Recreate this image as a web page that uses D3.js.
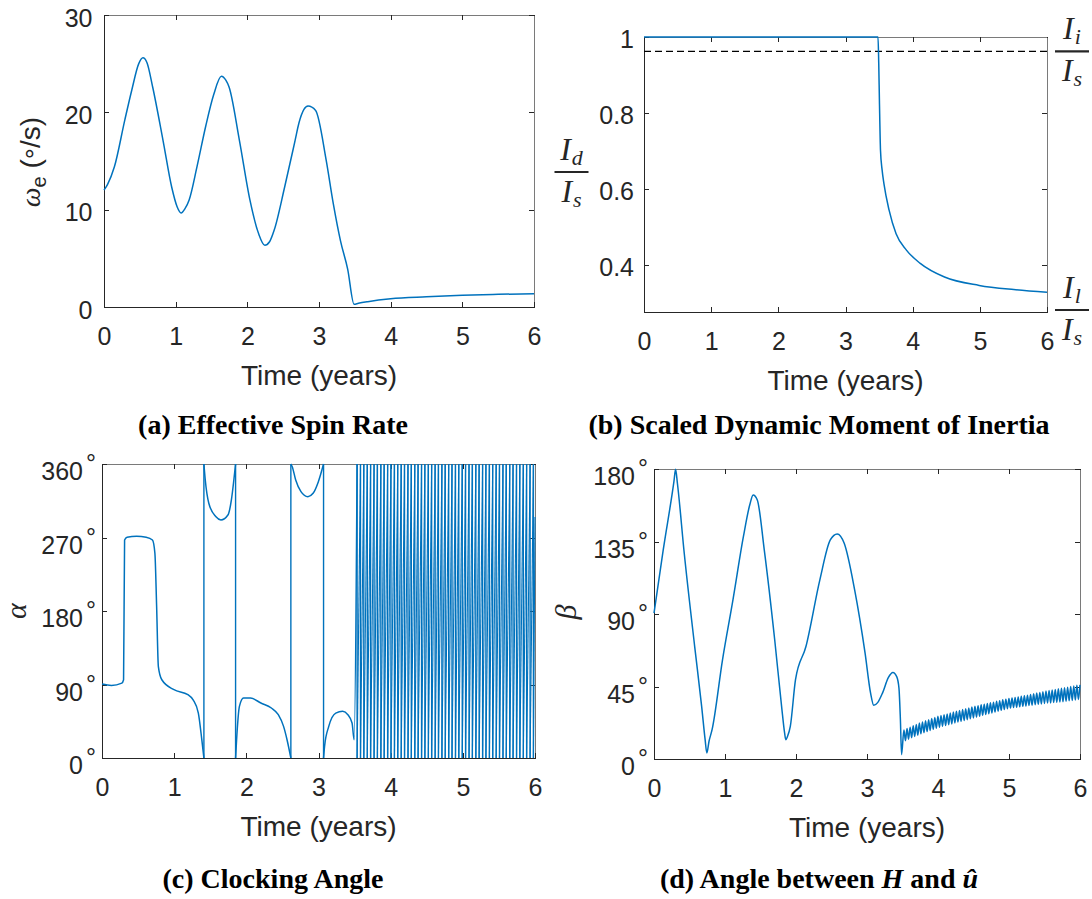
<!DOCTYPE html>
<html>
<head>
<meta charset="utf-8">
<script src="https://d3js.org/d3.v7.min.js"></script>
<style>
body { margin: 0; background: #fff; }
svg { display: block; }
.axis path, .axis line { stroke: #262626; shape-rendering: crispEdges; }
.mirror path { stroke: #7a7a7a; }
.axis text { font-family: "Liberation Sans", Arial, sans-serif; font-size: 25px; fill: #262626; }
text.xlabel { font-family: "Liberation Sans", Arial, sans-serif; font-size: 28px; fill: #262626; }
text.caption { font-family: "Liberation Serif", "Times New Roman", serif; font-size: 28px; font-weight: bold; fill: #000; }
text.math { font-family: "Liberation Serif", "Times New Roman", serif; font-style: italic; fill: #262626; }
</style>
</head>
<body>
<script>
const width = 1092, height = 899;
const blue = '#0072BD';
const tickLen = 5;

// (a) effective spin rate, deg/s
const spinT = [0, 0.05, 0.145, 0.29, 0.388, 0.485, 0.543, 0.6, 0.679, 0.824, 0.945, 1.02, 1.076, 1.13, 1.188,
  1.30, 1.42, 1.53, 1.638, 1.70, 1.745, 1.89, 2.036, 2.157, 2.244, 2.31, 2.375, 2.52, 2.666, 2.72,
  2.79, 2.847, 2.953, 3.1, 3.2, 3.3, 3.4, 3.49, 3.55, 3.68, 4.0, 4.5, 5.0, 5.5, 6.0];
const spinW = [12.0, 12.6, 14.4, 19.2, 22.3, 25.0, 25.6, 25.1, 22.6, 17.1, 12.3, 10.3, 9.66, 10.1, 11.0,
  14.5, 18.6, 21.8, 23.7, 23.3, 22.6, 17.1, 11.0, 7.54, 6.34, 6.7, 7.9, 12.3, 17.1, 18.9,
  20.3, 20.65, 20.2, 15.1, 10.6, 6.8, 3.9, 0.28, 0.38, 0.55, 0.85, 1.05, 1.2, 1.3, 1.37];

// (b) scaled dynamic moment of inertia
const inertiaT = [0, 3.484, 3.495, 3.505, 3.521, 3.545, 3.572, 3.649, 3.753, 3.907, 4.113, 4.474, 4.99, 5.505, 6.0];
const inertiaR = [1, 1, 0.93, 0.833, 0.702, 0.65, 0.614, 0.544, 0.482, 0.439, 0.404, 0.368, 0.346, 0.335, 0.328];
const ratioI = 0.962;   // Ii/Is (dashed)
const ratioL = 0.276;   // Il/Is (axis bottom)

// (c) clocking angle, deg (0/360 pairs at equal times are wraps)
const alphaT = [0, 0.13, 0.275, 0.299, 0.313, 0.347, 0.48, 0.612, 0.699, 0.733, 0.757, 0.781, 0.829, 0.998, 1.19,
  1.263, 1.335, 1.383, 1.412, 1.412, 1.431, 1.48, 1.576, 1.648, 1.745, 1.793, 1.827, 1.851, 1.851, 1.865,
  1.904, 1.961, 2.058, 2.202, 2.347, 2.443, 2.516, 2.564, 2.617, 2.617, 2.636, 2.684, 2.757, 2.853, 2.925,
  2.998, 3.07, 3.07, 3.084, 3.142, 3.239, 3.335, 3.407, 3.465, 3.494];
const alphaV = [90.5, 88.9, 91.7, 95.8, 267, 270.3, 271.5, 270.3, 267, 250.7, 185.5, 112, 95.8, 83.6, 77.5,
  71.3, 55, 22.4, 0, 360, 340.4, 312, 295.6, 291.5, 297.6, 316, 340.4, 360, 0, 22.4,
  63.2, 73.4, 73.4, 67.3, 61.2, 53, 38.7, 22.4, 0, 360, 356.7, 340.4, 326.2, 320, 324.1,
  338.4, 360, 0, 14.3, 38.7, 55, 57.1, 53, 42.8, 22.4];
// wrap times of the fast spin after 3.5 years
const alphaWrapT = [3.535, 3.582, 3.628, 3.676, 3.722, 3.770, 3.816, 3.864, 3.910, 3.958, 4.004, 4.052,
  4.098, 4.146, 4.192, 4.240, 4.286, 4.334, 4.380, 4.428, 4.474, 4.522, 4.568, 4.616, 4.662, 4.710,
  4.756, 4.804, 4.850, 4.898, 4.944, 4.992, 5.038, 5.086, 5.132, 5.180, 5.226, 5.274, 5.320, 5.368,
  5.414, 5.462, 5.508, 5.556, 5.602, 5.650, 5.696, 5.744, 5.790, 5.838, 5.884, 5.932, 5.978];
const alphaEnd = [6, 295];

// (d) angle between H and u, deg
const betaT = [0, 0.13, 0.28, 0.304, 0.33, 0.426, 0.573, 0.671, 0.72, 0.744, 0.775, 0.818, 0.965, 1.112, 1.259,
  1.35, 1.396, 1.455, 1.553, 1.7, 1.797, 1.84, 1.856, 1.88, 1.92, 1.993, 2.14, 2.336, 2.483, 2.581,
  2.679, 2.826, 2.973, 3.05, 3.095, 3.15, 3.218, 3.3, 3.365, 3.42, 3.45, 3.47, 3.487];
const betaV = [90.5, 129.8, 172, 179.8, 171, 127.7, 69.8, 32.7, 12, 3.7, 11, 18.2, 61.6, 98.8, 138,
  158, 163.9, 160.8, 129.8, 74, 32.7, 16, 12, 14, 20.3, 49.2, 69.8, 111.2, 136, 139.7,
  133.9, 105, 65.7, 41, 33.3, 35, 40.9, 50.5, 53.7, 51, 44, 25, 2.7];
// nutation wiggle after 3.5 years: alternating peaks/troughs, one every half period
const betaWiggleT0 = 3.52, betaWiggleStep = 0.02175;
const betaWiggleV = [18.0, 11.4, 18.9, 12.3, 19.7, 13.2, 20.6, 14.0, 21.4, 14.8, 22.3, 15.6,
  22.9, 16.3, 23.7, 17.0, 24.4, 17.7, 25.1, 18.4, 25.8, 19.1, 26.5, 19.7, 27.0, 20.3, 27.5, 20.8,
  28.0, 21.3, 28.6, 21.8, 29.1, 22.4, 29.6, 22.9, 30.1, 23.4, 30.7, 23.9, 31.2, 24.4, 31.7, 25.0,
  32.2, 25.5, 32.7, 26.0, 33.1, 26.5, 33.6, 27.1, 34.0, 27.6, 34.5, 28.1, 34.9, 28.6, 35.3, 29.1,
  35.8, 29.7, 36.2, 30.2, 36.7, 30.7, 37.1, 31.2, 37.5, 31.6, 37.8, 31.9, 38.2, 32.1, 38.5, 32.4,
  38.9, 32.7, 39.2, 32.9, 39.6, 33.2, 40.0, 33.4, 40.5, 33.7, 40.9, 34.0, 41.3, 34.2, 41.8, 34.5,
  42.2, 34.7, 42.5, 34.8, 42.9, 35.0, 43.2, 35.2, 43.6, 35.4, 43.9, 35.6, 44.3, 35.8, 44.6, 36.1,
  45.0, 36.3, 45.3, 36.6, 45.7, 36.9, 46.0];

const timeTicks = [0, 1, 2, 3, 4, 5, 6];
const spinTicks = [0, 10, 20, 30];
const inertiaTicks = [0.4, 0.6, 0.8, 1];
const alphaTicks = [0, 90, 180, 270, 360];
const betaTicks = [0, 45, 90, 135, 180];

const svg = d3.select('body').append('svg')
  .attr('width', width)
  .attr('height', height);

function drawPanel(p) {
  const x = d3.scaleLinear().domain([0, 6]).range([p.left, p.right]);
  const y = d3.scaleLinear().domain(p.yDomain).range([p.bottom, p.top]);
  const g = svg.append('g');

  g.append('g').attr('class', 'axis mirror')
    .attr('transform', `translate(0,${p.top})`)
    .call(d3.axisTop(x).tickValues(timeTicks).tickSize(-tickLen).tickSizeOuter(0).tickFormat(''));
  g.append('g').attr('class', 'axis mirror')
    .attr('transform', `translate(${p.right},0)`)
    .call(d3.axisRight(y).tickValues(p.rightTicks || p.yTicks).tickSize(-tickLen).tickSizeOuter(0).tickFormat(''));

  g.append('g').attr('class', 'axis')
    .attr('transform', `translate(0,${p.bottom})`)
    .call(d3.axisBottom(x).tickValues(timeTicks).tickSize(-tickLen).tickSizeOuter(0)
      .tickPadding(20.5).tickFormat(d3.format('d')));

  const ly = g.append('g').attr('class', 'axis')
    .attr('transform', `translate(${p.left},0)`)
    .call(d3.axisLeft(y).tickValues(p.yTicks).tickSize(-tickLen).tickSizeOuter(0)
      .tickPadding(p.yPad).tickFormat(p.yFormat));
  ly.selectAll('.tick text').attr('dy', p.yDy);
  if (p.degrees) {
    ly.selectAll('.tick text').append('tspan').attr('dx', 3).attr('dy', -8).text('°');
  }

  g.selectAll('.axis').attr('font-size', null).attr('font-family', null);

  g.append('text').attr('class', 'xlabel')
    .attr('x', (p.left + p.right) / 2).attr('y', p.bottom + 78)
    .attr('text-anchor', 'middle')
    .text('Time (years)');

  return { x, y, g };
}

function drawLine(pan, pts, curve, sw) {
  const line = d3.line().x(d => pan.x(d[0])).y(d => pan.y(d[1])).curve(curve || d3.curveMonotoneX);
  pan.g.append('path').datum(pts)
    .attr('d', line)
    .attr('fill', 'none')
    .attr('stroke', blue)
    .attr('stroke-width', sw || 1.5)
    .attr('stroke-linejoin', 'round');
}

function caption(cx, y, parts) {
  const t = svg.append('text').attr('class', 'caption').attr('x', cx).attr('y', y).attr('text-anchor', 'middle');
  parts.forEach(s => {
    const sp = t.append('tspan').text(s[0]);
    if (s[1]) sp.attr('font-style', 'italic');
  });
}

function frac(cx, barY, sub) {
  svg.append('line')
    .attr('x1', cx - 17).attr('x2', cx + 17)
    .attr('y1', barY).attr('y2', barY)
    .attr('stroke', '#262626').attr('stroke-width', 2.2);
  [[barY - 12, sub], [barY + 30, 's']].forEach(r => {
    const t = svg.append('text').attr('class', 'math').attr('x', cx).attr('y', r[0]).attr('text-anchor', 'middle');
    t.append('tspan').attr('font-size', 32).text('I');
    t.append('tspan').attr('font-size', 22).attr('dx', 1).attr('dy', 5).text(r[1]);
  });
}

// ---------- (a)
const pa = drawPanel({
  left: 104, right: 534, top: 15, bottom: 307,
  yDomain: [0, 30], yTicks: spinTicks, yPad: 11.5, yDy: 11, yFormat: d3.format('d')
});
drawLine(pa, spinT.map((t, i) => [t, spinW[i]]));
{
  const t = svg.append('text').attr('class', 'xlabel')
    .attr('transform', 'translate(40,162) rotate(-90)').attr('text-anchor', 'middle');
  t.append('tspan').attr('font-family', '"Liberation Serif", serif').attr('font-style', 'italic').text('ω');
  t.append('tspan').attr('font-size', 20).attr('dy', 6).text('e');
  t.append('tspan').attr('dy', -6).text(' (');
  t.append('tspan').attr('dy', 5).text('°');
  t.append('tspan').attr('dy', -5).text('/s)');
}
caption(273, 434, [['(a) Effective Spin Rate']]);

// ---------- (b)
const pb = drawPanel({
  left: 644, right: 1047, top: 37, bottom: 312,
  yDomain: [ratioL, 1], yTicks: inertiaTicks, rightTicks: [0.4, 0.6, 0.8, ratioI],
  yPad: 10, yDy: 10.5, yFormat: d => d3.format('.1f')(d).replace(/\.0$/, '')
});
pb.g.append('line')
  .attr('x1', pb.x(0)).attr('x2', pb.x(6))
  .attr('y1', pb.y(ratioI)).attr('y2', pb.y(ratioI))
  .attr('stroke', '#000').attr('stroke-width', 1.2).attr('stroke-dasharray', '7,4');
drawLine(pb, inertiaT.map((t, i) => [t, inertiaR[i]]));
frac(571.5, 172, 'd');
frac(1072, pb.y(ratioI), 'i');
frac(1072, pb.y(ratioL) - 2, 'l');
caption(819, 434, [['(b) Scaled Dynamic Moment of Inertia']]);

// ---------- (c)
const pc = drawPanel({
  left: 102, right: 535, top: 464, bottom: 758,
  yDomain: [0, 360], yTicks: alphaTicks, yPad: 6, yDy: 15.5, yFormat: d3.format('d'), degrees: true
});
{
  const pts = alphaT.map((t, i) => [t, alphaV[i]]);
  alphaWrapT.forEach(w => { pts.push([w, 360], [w, 0]); });
  pts.push(alphaEnd);
  // split into continuous pieces at the 0/360 wraps
  const pieces = [[pts[0]]];
  const jumps = [];
  for (let i = 1; i < pts.length; i++) {
    const a = pts[i - 1], b = pts[i];
    if (a[0] === b[0] && Math.abs(a[1] - b[1]) > 180) {
      jumps.push([a, b]);
      pieces.push([b]);
    } else {
      pieces[pieces.length - 1].push(b);
    }
  }
  pieces.forEach(seg => drawLine(pc, seg, null, seg.length === 2 ? 1.1 : 1.5));
  jumps.forEach(j => drawLine(pc, j, d3.curveLinear, 1.4));
}
svg.append('text').attr('class', 'math').attr('font-size', 30)
  .attr('transform', 'translate(26,611) rotate(-90)').attr('text-anchor', 'middle').text('α');
caption(273, 888, [['(c) Clocking Angle']]);

// ---------- (d)
const pd = drawPanel({
  left: 654, right: 1080, top: 469, bottom: 759,
  yDomain: [0, 180], yTicks: betaTicks, yPad: 6, yDy: 15.5, yFormat: d3.format('d'), degrees: true
});
{
  const pts = betaT.map((t, i) => [t, betaV[i]]);
  betaWiggleV.forEach((v, i) => pts.push([betaWiggleT0 + i * betaWiggleStep, v]));
  drawLine(pd, pts);
}
svg.append('text').attr('class', 'math').attr('font-size', 30)
  .attr('transform', 'translate(576,612) rotate(-90)').attr('text-anchor', 'middle').text('β');
caption(819, 888, [['(d) Angle between '], ['H', true], [' and '], ['û', true]]);
</script>
</body>
</html>
